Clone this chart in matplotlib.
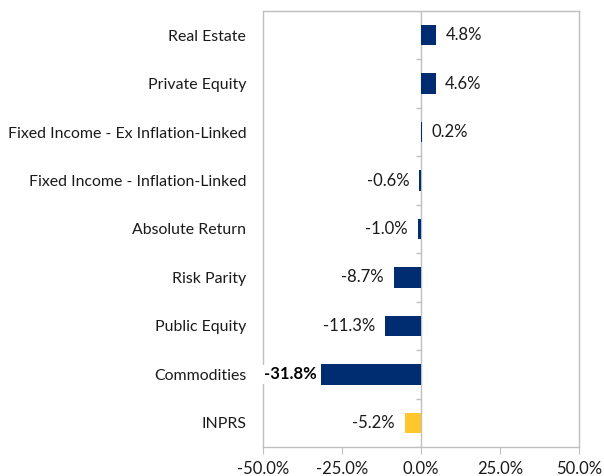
import matplotlib.pyplot as plt
import numpy as np

categories = ['Real Estate', 'Private Equity', 'Fixed Income - Ex Inflation-Linked',
              'Fixed Income - Inflation-Linked', 'Absolute Return', 'Risk Parity',
              'Public Equity', 'Commodities', 'INPRS']
returns = [4.8, 4.6, 0.2, -0.6, -1.0, -8.7, -11.3, -31.8, -5.2]
colors = ['#002D72'] * 8 + ['#FFC72C']
xticks = [-50, -25, 0, 25, 50]

plt.rcParams['font.family'] = ['Lato', 'DejaVu Sans']
grey = '#BFBFBF'

fig = plt.figure(figsize=(6.04, 4.76), dpi=100)
ax = fig.add_axes([263 / 604, 1 - 447 / 476, 316 / 604, 436 / 476])

y = np.arange(len(categories))
ax.barh(y, returns, height=0.42, color=colors, zorder=2)
ax.set_ylim(len(categories) - 0.5, -0.5)
ax.set_xlim(-50, 50)

ax.set_yticks(y)
ax.set_yticklabels(categories, fontsize=11.4, color='#1a1a1a')
ax.tick_params(axis='y', length=0, pad=12)
ax.set_xticks(xticks)
ax.set_xticklabels(['%.1f%%' % v for v in xticks], fontsize=12, color='#1a1a1a')
ax.tick_params(axis='x', length=5, color=grey, pad=5)

for s in ax.spines.values():
    s.set_color(grey)
    s.set_linewidth(1)

# zero line with small category ticks
ax.axvline(0, color=grey, lw=1, zorder=1)
ax.hlines(np.arange(-0.5, len(categories)), -1.6, 0, color=grey, lw=1, zorder=1)

for i, v in enumerate(returns):
    lab = '%.1f%%' % v
    if categories[i] == 'Commodities':
        ax.annotate(lab, (v, i), xytext=(-3, 0), textcoords='offset points',
                    ha='right', va='center', fontsize=12, fontweight='bold',
                    bbox=dict(facecolor='white', edgecolor='none', pad=1), zorder=5)
    elif v >= 0:
        ax.annotate(lab, (v, i), xytext=(7, 0), textcoords='offset points',
                    ha='left', va='center', fontsize=12, color='#1a1a1a')
    else:
        ax.annotate(lab, (v, i), xytext=(-7, 0), textcoords='offset points',
                    ha='right', va='center', fontsize=12, color='#1a1a1a')

fig.savefig('out.png', dpi=100)
